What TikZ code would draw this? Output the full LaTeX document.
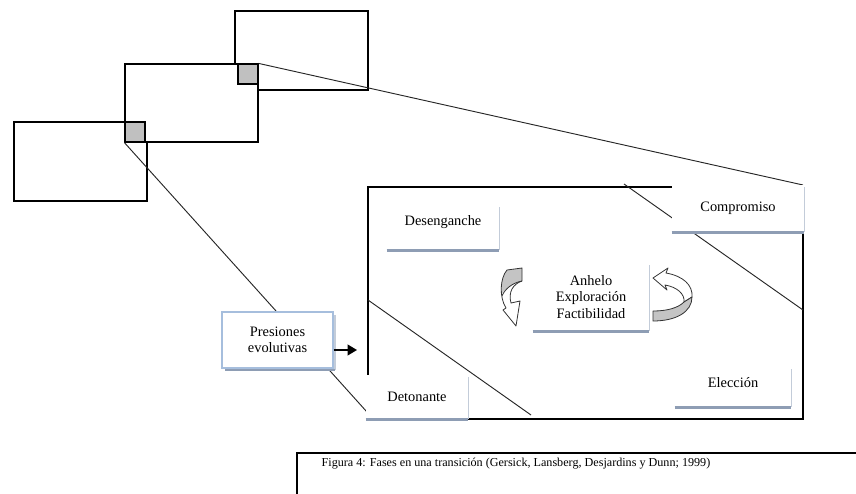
\documentclass[tikz,border=0pt]{standalone}
\usepackage{fontspec}
\setmainfont{Liberation Serif}
\usetikzlibrary{arrows.meta}

\definecolor{sqgray}{HTML}{C0C0C0}
\definecolor{shadowdark}{HTML}{8E9DB4}
\definecolor{shadowlight}{HTML}{C3CCD9}
\definecolor{paleblue}{HTML}{A6BEDD}
\definecolor{ribbon}{HTML}{C4C4C4}

\tikzset{
  frame/.style={draw=black, line width=0.9pt, fill=white, inner sep=0pt},
  tile/.style={draw=black, line width=0.9pt, fill=sqgray, minimum size=15pt, inner sep=0pt},
  thinline/.style={draw=black!85, line width=0.7pt},
  phase/.style={fill=white, inner sep=0pt, align=center,
    font=\fontsize{10.8}{12.4}\selectfont},
  shadowbottom/.style={draw=shadowdark, line width=2pt},
  shadowright/.style={draw=shadowlight, line width=0.9pt},
  ribbonline/.style={draw=black!80, line width=0.6pt, line join=round}
}

\begin{document}
\begin{tikzpicture}[x=0.75pt,y=-0.75pt]
\useasboundingbox (0,0) rectangle (856,493);

% three stacked rectangles
\node[frame, minimum width=99.75pt, minimum height=59.25pt] (rA) at (301.5,50.5) {};
\node[frame, minimum width=99.75pt, minimum height=59.25pt] (rC) at (80.5,161.5) {};
\node[frame, minimum width=99.75pt, minimum height=58.5pt] (rB) at (191.5,103) {};
\node[tile, anchor=north east] (sqR) at (rB.north east) {};
\node[tile, anchor=south west] (sqL) at (rB.south west) {};

% projection lines
\coordinate (endR) at (803,185);
\coordinate (endL) at (367,412);
\draw[thinline] (sqR.north east) -- (endR);
\draw[thinline] (sqL.south west) -- (endL);

% large panel
\node[draw=black, line width=0.9pt, minimum width=326.25pt, minimum height=174pt,
      inner sep=0pt] (panel) at (585.5,303) {};
\coordinate (d1a) at (368,300);
\coordinate (d1b) at (531,415);
\coordinate (d2a) at (624,184);
\coordinate (d2b) at (803,310);
\draw[thinline] (d1a) -- (d1b);
\draw[thinline] (d2a) -- (d2b);

% phase boxes
\node[phase, minimum width=84pt, minimum height=33.75pt, text depth=10pt] (des) at (443,227.5) {Desenganche};
\node[phase, minimum width=99pt, minimum height=35.25pt] (comp) at (738,208.5) {Compromiso};
\node[phase, minimum width=87pt, minimum height=51pt] (anh) at (591,297) {Anhelo\\Exploración\\Factibilidad};
\node[phase, minimum width=87pt, minimum height=30pt, text depth=7.5pt] (elec) at (733,387) {Elección};
\node[phase, minimum width=76.5pt, minimum height=33pt] (det) at (417,397) {Detonante};
\foreach \b in {des,comp,anh,elec,det}{
  \draw[shadowright] ([yshift=-2pt]\b.north east) -- (\b.south east);
  \draw[shadowbottom] (\b.south west) -- (\b.south east);
}

% pressures box
\node[phase, draw=paleblue, line width=1.1pt, minimum width=83.25pt, minimum height=42pt]
  (pres) at (277.5,340) {Presiones\\evolutivas};
\draw[shadowright] (335,315) -- (335,370);
\draw[shadowbottom] (225,370) -- (335,370);
\coordinate (tip) at (357,350);
\draw[line width=1.3pt, -{Triangle[length=7pt,width=8pt]}] (pres.east |- tip) -- (tip);

% left curved ribbon arrow
\def\leftribbon{(507,270) -- (522,268) -- (522,281)
  .. controls (513,284) and (508,292) .. (511,303)
  -- (520,301) -- (516,326) -- (503,310) -- (506,308)
  .. controls (499,297) and (500,278) .. (507,270) -- cycle}
\fill[white] \leftribbon;
\begin{scope}
  \clip \leftribbon;
  \fill[ribbon] (495,260) -- (530,260) -- (530,281) -- (522,281)
    .. controls (512,283) and (504,290) .. (498,298) -- cycle;
\end{scope}
\draw[ribbonline] (522,281) .. controls (512,283) and (505,289) .. (501.9,296);
\draw[ribbonline] \leftribbon;

% right curved ribbon arrow
\filldraw[ribbonline, fill=white] (653,278) -- (668,268) -- (666,273)
  .. controls (683,276) and (693,285) .. (692,297) -- (684,302)
  .. controls (685,294) and (677,287) .. (665,285) -- (667,290) -- cycle;
\filldraw[ribbonline, fill=ribbon] (684,302)
  .. controls (678,308) and (667,311) .. (653,311) -- (653,321)
  .. controls (676,321) and (692,312) .. (692,297) -- cycle;

% caption
\draw[line width=0.9pt] (860,453) -| (297,500);
\node[inner sep=0pt, font=\fontsize{9.1}{10.5}\selectfont] (caption) at (516,464)
  {Figura 4: Fases en una transición (Gersick, Lansberg, Desjardins y Dunn; 1999)};
\end{tikzpicture}
\end{document}
